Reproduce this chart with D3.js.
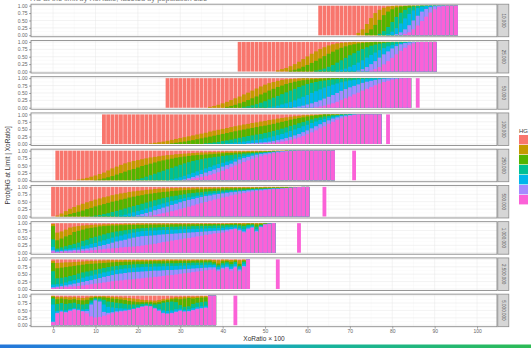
<!DOCTYPE html>
<html>
<head>
<meta charset="utf-8">
<script src="https://cdn.jsdelivr.net/npm/d3@7"></script>
<style>
  body { margin: 0; background: #fff; }
  text { font-family: "Liberation Sans", Arial, sans-serif; }
</style>
</head>
<body>
<div id="chart"></div>
<script>
// facet rows (population size) and HG levels
const facets = ["10,000", "25,000", "50,000", "100,000", "250,000", "500,000", "1,000,000", "2,500,000", "5,000,000"];
const hgLevels = ["1", "2", "3", "4", "5", "6", "7"];
const hgColors = ["#F8766D", "#C49A00", "#53B400", "#00C094", "#00B6EB", "#A58AFF", "#FB61D7"];
const xTicks = [0, 10, 20, 30, 40, 50, 60, 70, 80, 90, 100];
const xMinor = [5, 15, 25, 35, 45, 55, 65, 75, 85, 95];
const yTicks = [0, 0.25, 0.5, 0.75, 1];
const yMinor = [0.125, 0.375, 0.625, 0.875];

// first XoRatio*100 of each facet, and the lone bar to the right
const xStart = [63, 44, 27, 12, 1, 0, 0, 0, 0];
const xLone = [null, null, 86, 79, 71, 64, 58, 53, 43];

// each bar: cumulative % from the bottom -> tops of HG7, HG6, HG5, HG4, HG3, HG2 (HG1 fills to 100)
const RED = [0, 0, 0, 0, 0, 0];
const PINK = [100, 100, 100, 100, 100, 100];

const cum1 = [
  RED, RED, RED, RED, RED, RED, RED, RED, RED,
  [0,0,0,0,0,8], [0,0,0,0,0,20], [0,0,0,0,8,38], [0,0,0,0,20,58], [0,0,0,0,35,75],
  [0,0,0,5,52,86], [0,0,0,14,68,93], [0,0,4,28,80,97], [0,0,12,45,88,99], [0,4,24,62,94,100],
  [0,10,40,76,97,100], [4,20,57,86,99,100], [10,34,72,93,100,100], [20,50,84,97,100,100], [33,66,92,99,100,100],
  [48,80,96,100,100,100], [63,89,99,100,100,100], [77,95,100,100,100,100], [88,98,100,100,100,100], [95,100,100,100,100,100],
  [98,100,100,100,100,100], PINK, PINK, PINK
];

const cum2 = [
  RED, RED, RED, RED, RED, RED, RED, RED, RED,
  [0,0,0,0,0,4], [0,0,0,0,0,8], [0,0,0,0,0,12], [0,0,0,0,3,18], [0,0,0,0,6,25],
  [0,0,0,0,10,33], [0,0,0,0,16,42], [0,0,0,0,22,51], [0,0,0,0,29,60], [0,0,0,3,36,68],
  [0,0,0,6,44,76], [0,0,0,10,52,82], [0,0,0,16,60,88], [0,0,0,22,67,92], [0,0,3,30,74,95],
  [0,0,6,38,80,97], [0,0,10,46,85,98], [0,0,16,55,89,99], [0,0,22,62,92,100], [0,3,30,70,95,100],
  [0,8,38,76,97,100], [0,15,47,82,98,100], [3,25,56,87,99,100], [8,35,64,91,100,100], [15,47,72,94,100,100],
  [24,58,79,96,100,100], [35,68,85,98,100,100], [46,78,89,99,100,100], [58,86,93,100,100,100], [70,92,96,100,100,100],
  [80,96,98,100,100,100], [89,98,100,100,100,100], [95,100,100,100,100,100], [99,100,100,100,100,100],
  PINK, PINK, PINK, PINK
];

const cum3 = [
  RED, RED, RED, RED, RED, RED, RED, RED, RED, RED,
  [0,0,0,0,0,3], [0,0,0,0,0,6], [0,0,0,0,0,10], [0,0,0,0,0,15], [0,0,0,0,3,20],
  [0,0,0,0,6,26], [0,0,0,0,10,32], [0,0,0,0,15,38], [0,0,0,3,20,45], [0,0,0,5,26,51],
  [0,0,0,8,32,58], [0,0,0,12,38,65], [0,0,0,17,45,72], [0,0,0,22,51,78], [0,0,2,28,58,83],
  [0,0,4,34,64,87], [0,0,7,40,70,91], [0,0,11,46,75,94], [0,0,15,52,80,96], [0,0,20,58,84,97],
  [0,2,25,64,88,98], [0,4,31,70,91,99], [0,7,37,75,93,100], [0,11,43,80,95,100], [0,15,50,84,96,100],
  [2,20,56,87,97,100], [4,25,62,90,98,100], [7,31,68,92,99,100], [11,37,73,94,100,100], [15,43,78,96,100,100],
  [20,50,82,97,100,100], [26,57,86,98,100,100], [32,63,89,99,100,100], [38,69,92,99,100,100], [45,74,94,100,100,100],
  [51,79,96,100,100,100], [58,84,97,100,100,100], [64,88,98,100,100,100], [70,91,99,100,100,100], [76,94,99,100,100,100],
  [82,96,100,100,100,100], [87,98,100,100,100,100], [91,99,100,100,100,100], [95,100,100,100,100,100], [97,100,100,100,100,100],
  [99,100,100,100,100,100], PINK, PINK
];

const cum4 = [
  RED, RED, RED, RED, RED, RED, RED, RED, RED, RED, RED,
  [0,0,0,0,0,2], [0,0,0,0,0,4], [0,0,0,0,0,6], [0,0,0,0,0,8], [0,0,0,0,0,11],
  [0,0,0,0,2,14], [0,0,0,0,4,17], [0,0,0,0,6,20], [0,0,0,0,8,23], [0,0,0,0,11,26],
  [0,0,0,0,13,29], [0,0,0,0,16,32], [0,0,0,0,19,35], [0,0,0,2,22,38], [0,0,0,3,25,42],
  [0,0,0,5,28,45], [0,0,0,7,31,48], [0,0,0,10,34,51], [0,0,2,12,37,54], [0,0,3,15,40,57],
  [0,0,5,18,43,60], [0,0,6,21,46,63], [0,0,8,24,49,66], [0,2,10,27,52,68], [0,3,12,29,54,71],
  [0,4,14,32,57,73], [1,5,16,34,60,76], [2,6,19,37,62,78], [3,8,22,40,65,81], [4,10,26,44,68,83],
  [6,13,30,48,72,86], [8,16,34,52,75,88], [11,20,39,56,78,90], [14,24,44,61,82,92], [18,29,49,65,85,94],
  [22,34,54,70,88,95], [27,40,60,74,90,97], [33,46,65,79,93,98], [39,53,71,83,95,99], [46,60,76,87,97,99],
  [53,67,81,90,98,100], [60,74,85,93,100,100], [68,80,89,95,100,100], [75,86,92,97,100,100], [82,90,95,98,100,100],
  [87,94,97,100,100,100], [92,96,99,100,100,100], [95,98,100,100,100,100], [98,100,100,100,100,100],
  PINK, PINK, PINK, PINK, PINK, PINK
];

const cum5 = [
  RED, RED, RED, RED, RED,
  [0,0,0,0,0,2], [0,0,0,0,0,5], [0,0,0,0,0,8], [0,0,0,0,0,12], [0,0,0,0,1,16],
  [0,0,0,0,3,21], [0,0,0,0,6,26], [0,0,0,0,10,33], [0,0,0,0,14,40], [0,0,0,0,19,46],
  [0,0,0,0,24,52], [0,0,0,0,29,57], [0,0,0,0,34,61], [0,0,0,1,38,65], [0,0,0,3,43,68],
  [0,0,0,7,48,71], [0,0,0,12,52,74], [0,0,0,17,56,77], [0,0,0,22,60,79], [0,0,0,27,64,81],
  [0,0,0,32,67,83], [0,0,1,37,70,85], [0,0,3,42,73,86], [0,0,6,47,76,88], [0,1,10,52,78,89],
  [1,3,15,57,80,90], [3,7,20,61,82,91], [5,11,25,65,84,92], [8,16,30,68,85,93], [11,21,35,71,86,94],
  [14,26,40,74,87,94], [18,31,45,76,88,95], [22,36,50,78,89,95], [27,41,55,80,90,96], [32,46,59,82,91,96],
  [38,51,63,84,92,97], [44,56,67,85,92,97], [50,63,73,87,93,98], [56,70,78,88,94,98], [62,75,82,90,95,98],
  [67,79,85,91,95,99], [72,83,88,92,96,99], [77,86,90,93,96,99], [81,89,92,94,97,99], [85,91,93,95,97,99],
  [88,93,95,96,98,99], [91,95,96,97,98,100], [93,97,97,98,99,100], [95,98,98,98,99,100], [97,99,99,99,100,100],
  [98,100,100,100,100,100], [99,100,100,100,100,100],
  PINK, PINK, PINK, PINK, PINK, PINK, PINK, PINK, PINK
];

const cum6 = [
  RED,
  [0,0,0,0,0,3], [0,0,0,0,1,10], [0,0,0,0,4,18], [0,0,0,0,8,26], [0,0,0,0,12,32],
  [0,0,0,0,16,38], [0,0,0,0,20,43], [0,0,0,0,25,48], [0,0,0,1,29,52], [0,0,0,3,34,57],
  [0,0,0,5,38,61], [0,0,0,8,42,65], [0,0,0,11,46,68], [0,0,0,15,50,72], [0,0,1,19,53,75],
  [0,0,3,23,57,78], [0,0,6,27,60,80], [0,0,10,31,64,83], [0,1,14,35,67,85], [0,4,18,39,70,87],
  [0,8,22,43,72,88], [1,12,27,47,75,90], [3,16,31,51,77,91], [5,21,36,55,79,93], [8,25,40,58,81,94],
  [11,30,44,62,83,95], [14,34,48,65,84,95], [18,39,52,68,86,96], [21,43,55,70,87,96], [25,48,59,73,88,97],
  [29,52,62,75,89,97], [33,56,65,78,90,97], [37,59,67,79,91,97], [41,63,70,81,92,98], [45,66,72,82,92,98],
  [49,69,75,84,93,98], [53,71,77,85,93,98], [57,74,79,86,94,98], [60,76,80,87,94,98], [64,78,82,88,95,99],
  [67,80,83,89,95,99], [71,82,85,90,95,99], [74,83,86,90,96,99], [77,85,87,91,96,99], [79,86,88,91,96,99],
  [82,88,90,92,96,99], [84,89,91,93,96,99], [86,90,92,94,97,99], [87,91,92,94,97,99], [89,92,93,95,97,100],
  [90,93,94,95,97,100], [92,94,95,96,98,100], [93,94,95,96,98,100], [94,95,96,97,98,100], [95,96,96,97,98,100],
  [97,97,97,98,99,100], [98,98,98,98,99,100], [99,99,99,99,99,100],
  PINK, PINK
];

const cum7 = [
  [4,8,20,45,90,97], [2,4,8,14,42,68], [3,6,10,18,48,72], [4,7,12,22,55,78], [3,8,14,26,60,85],
  [5,10,16,30,70,88], [4,10,18,34,74,90], [6,12,22,40,78,92], [7,14,25,44,82,93], [8,17,30,50,84,94],
  [9,19,33,54,86,95], [11,23,38,58,89,95], [12,26,42,62,90,96], [14,30,47,66,91,96], [15,34,51,69,92,97],
  [16,38,55,72,92,97], [18,41,58,74,93,97], [19,44,62,76,93,98], [20,48,65,78,94,98], [21,51,68,80,94,98],
  [22,54,71,82,94,99], [24,56,73,83,94,99], [26,57,74,84,95,99], [28,58,75,85,95,99], [30,59,75,85,95,99],
  [33,61,76,86,95,99], [36,62,77,87,95,99], [38,63,77,87,95,99], [41,64,78,88,96,99], [43,65,78,88,96,99],
  [45,66,79,89,96,99], [48,67,80,89,96,99], [50,68,80,89,96,99], [52,69,81,90,96,99], [55,70,81,90,96,99],
  [57,71,82,91,97,99], [60,72,82,91,97,99], [62,73,83,91,97,99], [65,74,83,92,97,99], [66,75,84,92,97,99],
  [68,76,84,92,97,99], [72,78,86,93,97,99], [76,80,87,93,97,100], [80,82,88,94,98,100], [74,78,84,92,97,100],
  [68,72,80,90,96,100], [78,82,88,94,98,100], [84,86,90,95,98,100], [70,74,80,88,96,100], [86,88,90,94,98,100],
  [95,96,97,98,99,100], [98,98,99,99,100,100], PINK
];

const cum8 = [
  [3,6,15,60,88,95], [5,8,16,36,70,88], [6,10,18,38,72,89], [7,12,22,40,74,90], [8,15,26,44,76,90],
  [9,18,30,47,78,91], [10,21,34,52,80,92], [12,24,38,56,82,93], [14,27,42,59,84,94], [16,30,45,62,85,95],
  [18,34,49,65,86,95], [20,37,52,68,87,96], [22,41,56,71,88,96], [24,44,59,74,89,97], [26,47,62,76,90,97],
  [28,50,65,78,91,97], [29,52,67,80,91,97], [31,54,69,81,92,98], [32,56,70,82,92,98], [33,57,72,83,93,98],
  [35,58,73,84,93,98], [36,59,74,84,93,98], [38,60,75,85,93,98], [39,61,75,85,94,98], [41,62,76,86,94,98],
  [42,62,76,86,94,98], [44,63,77,86,94,99], [46,64,77,87,94,99], [47,64,78,87,95,99], [49,65,78,87,95,99],
  [51,66,79,88,95,99], [53,67,79,88,95,99], [55,68,80,88,95,99], [57,69,80,89,95,99], [59,70,81,89,96,99],
  [61,71,81,89,96,99], [63,72,82,90,96,99], [65,73,82,90,96,99], [66,73,81,86,92,98], [60,66,74,80,86,97],
  [67,72,80,87,94,99], [70,75,83,90,95,99], [62,68,76,84,92,98], [71,76,84,91,96,99], [60,66,73,78,85,97],
  [74,78,85,92,96,99], PINK
];

const cum9 = [
  [10,12,70,90,96,99], [40,42,48,72,88,95], [45,47,52,75,90,96], [42,45,50,72,88,95], [48,50,55,74,86,94],
  [52,54,58,76,88,95], [50,52,56,72,85,93], [46,48,53,70,84,92], [40,48,55,72,86,94], [30,70,76,84,92,97],
  [26,84,87,91,95,98], [28,80,84,90,95,98], [32,45,70,86,94,98], [36,42,62,80,92,97], [40,44,60,78,90,96],
  [44,47,58,76,89,95], [46,49,57,74,87,94], [48,50,56,72,85,93], [50,52,56,70,82,92], [54,55,58,70,80,90],
  [58,59,61,70,78,88], [62,63,65,72,78,86], [65,66,67,73,78,85], [63,64,66,72,78,84], [56,57,60,70,76,83],
  [48,50,55,72,78,85], [40,42,50,76,82,88], [38,40,48,78,85,90], [40,42,50,80,88,93], [44,46,54,78,90,95],
  [48,50,56,68,88,95], [45,47,52,62,90,96], [46,48,54,64,92,97], [50,52,58,72,90,96], [54,56,62,76,92,97],
  [56,58,64,78,93,98], [58,60,66,80,94,98], PINK, PINK
];

const panels = [cum1, cum2, cum3, cum4, cum5, cum6, cum7, cum8, cum9];

const width = 531, height = 348;
const svg = d3.select("#chart")
  .append("svg")
  .attr("width", width)
  .attr("height", height);

const x = d3.scaleLinear().domain([-5.2, 104.7]).range([31, 497]);
const row = d3.scaleBand().domain(facets).range([4.2, 326.7]).paddingInner(0.102);
const bw = x(0.9) - x(0);

// title, mostly cut off at the top edge as in the screenshot
svg.append("text")
  .attr("x", 30).attr("y", 1.2)
  .style("font-size", "7.5px").style("fill", "#777")
  .text("HG at the limit by XoRatio, faceted by population size");

facets.forEach(function (f, i) {
  const top = row(f), h = row.bandwidth();
  const y = d3.scaleLinear().domain([-0.05, 1.05]).range([top + h, top]);
  const g = svg.append("g");

  // grid
  g.selectAll(".xminor").data(xMinor).enter().append("line")
    .attr("x1", function (d) { return x(d); }).attr("x2", function (d) { return x(d); })
    .attr("y1", top).attr("y2", top + h)
    .attr("stroke", "#F0F0F0").attr("stroke-width", 0.3);
  g.selectAll(".yminor").data(yMinor).enter().append("line")
    .attr("x1", x.range()[0]).attr("x2", x.range()[1])
    .attr("y1", function (d) { return y(d); }).attr("y2", function (d) { return y(d); })
    .attr("stroke", "#F0F0F0").attr("stroke-width", 0.3);
  g.selectAll(".xmajor").data(xTicks).enter().append("line")
    .attr("x1", function (d) { return x(d); }).attr("x2", function (d) { return x(d); })
    .attr("y1", top).attr("y2", top + h)
    .attr("stroke", "#E6E6E6").attr("stroke-width", 0.5);
  g.selectAll(".ymajor").data(yTicks).enter().append("line")
    .attr("x1", x.range()[0]).attr("x2", x.range()[1])
    .attr("y1", function (d) { return y(d); }).attr("y2", function (d) { return y(d); })
    .attr("stroke", "#E6E6E6").attr("stroke-width", 0.5);

  // stacked bars: paint HG1 full height, then each lower level over it
  const segs = [];
  panels[i].forEach(function (cum, j) {
    const xv = xStart[i] + j;
    for (let k = 6; k >= 0; k--) {
      const hi = k === 6 ? 100 : cum[k];
      if (hi > 0) segs.push({ x: xv, hi: hi, hg: 6 - k });
    }
  });
  if (xLone[i] !== null) segs.push({ x: xLone[i], hi: 100, hg: 6 });

  g.selectAll(".bar").data(segs).enter().append("rect")
    .attr("x", function (d) { return x(d.x) - bw / 2; })
    .attr("width", bw)
    .attr("y", function (d) { return y(d.hi / 100); })
    .attr("height", function (d) { return y(0) - y(d.hi / 100); })
    .attr("fill", function (d) { return hgColors[d.hg]; });

  // panel border
  g.append("rect")
    .attr("x", x.range()[0]).attr("y", top)
    .attr("width", x.range()[1] - x.range()[0]).attr("height", h)
    .attr("fill", "none").attr("stroke", "#8c8c8c").attr("stroke-width", 0.9);

  // y axis
  const ya = g.append("g")
    .attr("transform", "translate(" + x.range()[0] + ",0)")
    .call(d3.axisLeft(y).tickValues(yTicks).tickSize(2).tickPadding(1.5).tickFormat(d3.format(".2f")));
  ya.select(".domain").remove();
  ya.selectAll("line").attr("stroke", "#555").attr("stroke-width", 0.5);
  ya.selectAll("text").style("font-size", "5px").style("fill", "#666").attr("font-family", "Liberation Sans, Arial, sans-serif");

  // strip
  g.append("rect")
    .attr("x", 497.8).attr("y", top)
    .attr("width", 11).attr("height", h)
    .attr("fill", "#D6D6D6").attr("stroke", "#8c8c8c").attr("stroke-width", 0.8);
  g.append("text")
    .attr("transform", "translate(503.3," + (top + h / 2) + ") rotate(90)")
    .attr("text-anchor", "middle").attr("dy", "0.35em")
    .style("font-size", "4.6px").style("fill", "#555")
    .text(f);
});

// x axis under the last facet
const last = row(facets[facets.length - 1]) + row.bandwidth();
const xa = svg.append("g")
  .attr("transform", "translate(0," + last + ")")
  .call(d3.axisBottom(x).tickValues(xTicks).tickSize(2).tickPadding(1));
xa.select(".domain").remove();
xa.selectAll("line").attr("stroke", "#555").attr("stroke-width", 0.5);
xa.selectAll("text").style("font-size", "5px").style("fill", "#666").attr("font-family", "Liberation Sans, Arial, sans-serif");

svg.append("text")
  .attr("x", (x.range()[0] + x.range()[1]) / 2).attr("y", 340.5)
  .attr("text-anchor", "middle")
  .style("font-size", "6.5px").style("fill", "#333")
  .text("XoRatio × 100");

svg.append("text")
  .attr("transform", "translate(9.5," + ((row.range()[0] + last) / 2) + ") rotate(-90)")
  .attr("text-anchor", "middle")
  .style("font-size", "6.5px").style("fill", "#333")
  .text("Prob[HG at Limit | XoRatio]");

// legend (its labels fall outside the screenshot, so only the keys show)
const leg = svg.append("g").attr("transform", "translate(519,0)");
leg.append("text").attr("x", 0).attr("y", 132.5)
  .style("font-size", "6px").style("fill", "#333").text("HG");
leg.selectAll(".key").data(hgLevels).enter().append("rect")
  .attr("x", 0).attr("y", function (d, k) { return 135 + k * 10; })
  .attr("width", 9).attr("height", 9.4)
  .attr("fill", function (d, k) { return hgColors[k]; });

// screenshot frame strip at the bottom edge
const grad = svg.append("defs").append("linearGradient").attr("id", "edge");
grad.append("stop").attr("offset", "0").attr("stop-color", "#2477d9");
grad.append("stop").attr("offset", "0.45").attr("stop-color", "#1e9fd0");
grad.append("stop").attr("offset", "0.6").attr("stop-color", "#17b3a0");
grad.append("stop").attr("offset", "1").attr("stop-color", "#2dbb55");
svg.append("rect").attr("x", 0).attr("y", 344.5).attr("width", width).attr("height", 3.5)
  .attr("fill", "url(#edge)");
</script>
</body>
</html>
